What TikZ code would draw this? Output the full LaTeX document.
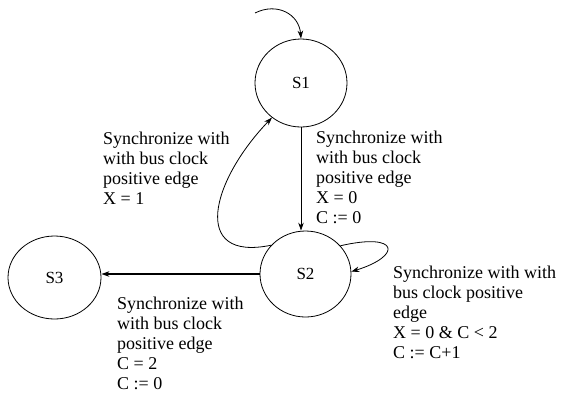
\documentclass[tikz,border=0pt]{standalone}
\usepackage{fontspec}
\setmainfont{Liberation Serif}
\usetikzlibrary{arrows.meta,shapes.geometric}
\begin{document}
\begin{tikzpicture}[x=1pt,y=-1pt,
  state/.style={draw,ellipse,line width=0.8pt,inner sep=0pt,font=\fontsize{17}{20}\selectfont},
  arr/.style={line width=0.8pt,-{Stealth[length=8pt,width=5.5pt]}},
  lbl/.style={anchor=north west,inner sep=0pt,align=left,font=\fontsize{18}{20}\selectfont}]
\useasboundingbox (0,0) rectangle (567,392);
\node[state,minimum width=92pt,minimum height=88pt] (S1) at (301,83) {S1};
\node[state,minimum width=91pt,minimum height=86pt] (S2) at (305.5,274) {S2};
\node[state,minimum width=93pt,minimum height=83pt] (S3) at (54.5,277.5) {S3};
\coordinate (init) at (255,13);
\draw[arr] (init) .. controls (277,2) and (299,14) .. (S1.north);
\draw[arr] (S1.south) -- (S1.south |- S2.north);
\draw[arr] (S2.140) .. controls (190,262) and (211,181) .. (S1.230);
\draw[arr] (S2.39) .. controls (400,232) and (402,256) .. (S2.3);
\draw[line width=1.6pt,-{Stealth[length=8pt,width=5.5pt]}] (S2.west) -- (S3.east |- S2.west);
\node[lbl] (L1) at (103,131.5) {Synchronize with\\with bus clock\\positive edge\\X = 1};
\node[lbl] (L2) at (316,130.5) {Synchronize with\\with bus clock\\positive edge\\X = 0\\C := 0};
\node[lbl] (L3) at (117,296.5) {Synchronize with\\with bus clock\\positive edge\\C = 2\\C := 0};
\node[lbl] (L4) at (393,265.5) {Synchronize with with\\bus clock positive\\edge\\X = 0 \& C < 2\\C := C+1};
\end{tikzpicture}
\end{document}
